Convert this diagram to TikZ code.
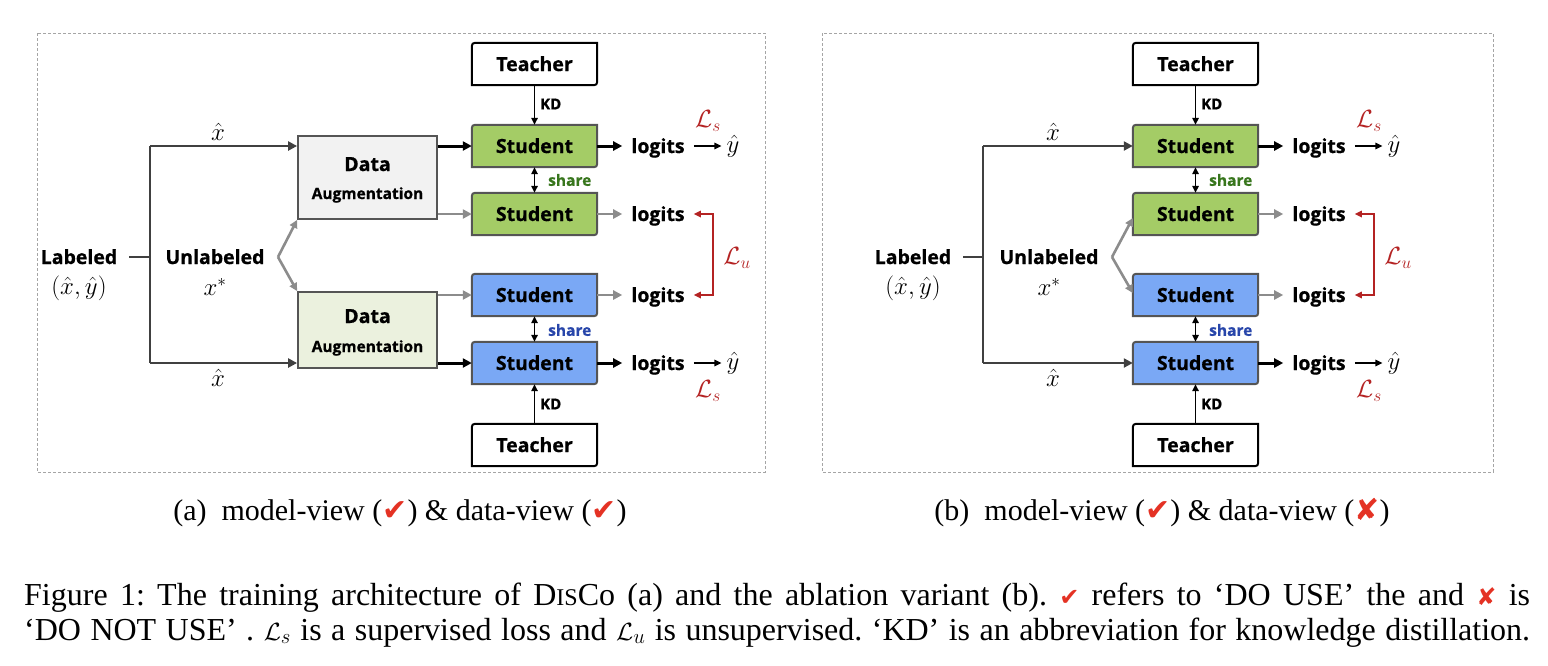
\documentclass[tikz,border=0pt]{standalone}
\usepackage{fontspec}
\setmainfont{Liberation Serif}
\newfontfamily\dfont{Open Sans}[BoldFeatures={FakeBold=0.8}]
\newfontfamily\symfont{DejaVu Sans}
\usetikzlibrary{arrows.meta,backgrounds,calc}

\definecolor{sgreen}{RGB}{164,204,102}
\definecolor{sblue}{RGB}{122,168,245}
\definecolor{bordc}{RGB}{85,85,85}
\definecolor{lined}{RGB}{64,64,64}
\definecolor{lineg}{RGB}{140,140,140}
\definecolor{lred}{RGB}{180,35,35}
\definecolor{shgreen}{RGB}{56,118,29}
\definecolor{shblue}{RGB}{40,70,170}
\definecolor{augA}{RGB}{242,242,242}
\definecolor{augB}{RGB}{235,241,222}
\definecolor{ckred}{RGB}{228,50,36}
\definecolor{framec}{RGB}{165,165,165}

\newcommand\myroundbox[2]{%
  \draw[#2] (#1.south west) -- ([xshift=-7pt]#1.south east)
    .. controls (#1.south east) .. ([yshift=7pt]#1.south east)
    -- (#1.north east) -- ([xshift=7pt]#1.north west)
    .. controls (#1.north west) .. ([yshift=-7pt]#1.north west) -- cycle;}
\newcommand\ck{{\symfont\color{ckred}✔}}
\newcommand\xk{{\symfont\color{ckred}✘}}

\tikzset{
  bx/.style={minimum width=125pt, minimum height=42pt, inner sep=0pt,
    text height=14pt, text depth=0pt, font=\dfont\bfseries\fontsize{19.5}{22}\selectfont},
  lg/.style={inner xsep=9pt, inner ysep=0pt, text height=14pt, text depth=0pt,
    font=\dfont\bfseries\fontsize{19.5}{22}\selectfont},
  lbl/.style={inner sep=0pt, text height=14pt, text depth=0pt, font=\dfont\bfseries\fontsize{19.5}{22}\selectfont},
  mth/.style={inner sep=0pt, font=\fontsize{24}{28}\selectfont},
  redl/.style={inner sep=0pt, text=lred, font=\fontsize{25}{28}\selectfont},
  kd/.style={inner sep=0pt, anchor=west, font=\dfont\bfseries\fontsize{15}{18}\selectfont},
  sh/.style={inner sep=0pt, anchor=west, font=\dfont\bfseries\fontsize{15.5}{18}\selectfont},
  aug/.style={inner sep=0pt, text height=11pt, text depth=3pt, font=\dfont\bfseries\fontsize{15.5}{18}\selectfont},
  thinarr/.style={draw=black, line width=1.5pt, -{Triangle[length=7pt,width=6.5pt]}},
  dblarr/.style={draw=black, line width=1.5pt, {Triangle[length=7pt,width=6.5pt]}-{Triangle[length=7pt,width=6.5pt]}},
  barr/.style={draw=black, line width=3pt, -{Triangle[length=9pt,width=9pt]}},
  garr/.style={draw=lineg, line width=2.6pt, -{Triangle[length=9pt,width=9pt]}},
  darr/.style={draw=lined, line width=2.6pt, -{Triangle[length=9pt,width=9pt]}},
  dline/.style={draw=lined, line width=2.6pt},
  redarr/.style={draw=lred, line width=1.6pt, {Triangle[length=7pt,width=6.5pt]}-{Triangle[length=7pt,width=6.5pt]}},
  frm/.style={draw=framec, line width=0.9pt, dash pattern=on 3pt off 2pt},
}

\newcommand\rightpart{%
  \node[bx] (T1) at (534.5,64) {Teacher};
  \node[bx] (S1) at (534.5,146) {Student};
  \node[bx] (S2) at (534.5,214) {Student};
  \node[bx] (S3) at (534.5,295) {Student};
  \node[bx] (S4) at (534.5,363) {Student};
  \node[bx] (T2) at (534.5,445) {Teacher};
  \node[lg] (L1) at (658,146) {logits};
  \node[lg] (L2) at (658,214) {logits};
  \node[lg] (L3) at (658,295) {logits};
  \node[lg] (L4) at (658,363) {logits};
  \node[mth, inner xsep=5pt] (Y1) at (733,146) {$\hat{y}$};
  \node[mth, inner xsep=5pt] (Y4) at (733,363) {$\hat{y}$};
  \node[redl] (Ls1) at (708,121) {$\mathcal{L}_s$};
  \node[redl] (Ls4) at (708,391) {$\mathcal{L}_s$};
  \node[redl] (Lu) at (737,258) {$\mathcal{L}_u$};
  \coordinate (B2) at (713,214);
  \coordinate (B3) at (713,295);
  \node[kd] (KD1) at (540,104) {KD};
  \node[kd] (KD2) at (540,404) {KD};
  \node[sh, text=shgreen] (SH1) at (548,180) {share};
  \node[sh, text=shblue] (SH2) at (548,330) {share};
  \draw[thinarr] (T1.south) -- (S1.north);
  \draw[thinarr] (T2.north) -- (S4.south);
  \draw[dblarr] (S1.south) -- (S2.north);
  \draw[dblarr] (S3.south) -- (S4.north);
  \draw[barr] (S1.east) -- (L1.west);
  \draw[garr] (S2.east) -- (L2.west);
  \draw[garr] (S3.east) -- (L3.west);
  \draw[barr] (S4.east) -- (L4.west);
  \draw[thinarr] (L1.east) -- (Y1.west);
  \draw[thinarr] (L4.east) -- (Y4.west);
  \draw[redarr] (L2.east) -- (B2) -- (B3) -- (L3.east);
  \begin{scope}[on background layer]
    \myroundbox{T1}{fill=white, draw=black, line width=2pt}
    \myroundbox{T2}{fill=white, draw=black, line width=2pt}
    \myroundbox{S1}{fill=sgreen, draw=bordc, line width=2pt}
    \myroundbox{S2}{fill=sgreen, draw=bordc, line width=2pt}
    \myroundbox{S3}{fill=sblue, draw=bordc, line width=2pt}
    \myroundbox{S4}{fill=sblue, draw=bordc, line width=2pt}
  \end{scope}
}

\begin{document}
\begin{tikzpicture}[x=1pt,y=-1pt]
\useasboundingbox (0,0) rectangle (1548,665);

% ---------- panel (a)
\begin{scope}[name prefix=a-]
  \draw[frm] (37,33) rectangle (765,472);
  \rightpart
  \node[draw=bordc, line width=1.8pt, fill=augA, minimum width=139pt, minimum height=83pt, inner sep=0pt] (A1) at (367.5,177.5) {};
  \node[draw=bordc, line width=1.8pt, fill=augB, minimum width=139pt, minimum height=76pt, inner sep=0pt] (A2) at (367.5,330) {};
  \node[lbl] (D1) at (367.5,164) {Data};
  \node[aug] (AU1) at (367.5,195) {Augmentation};
  \node[lbl] (D2) at (367.5,316) {Data};
  \node[aug] (AU2) at (367.5,348) {Augmentation};
  \node[lbl] (LAB) at (79,257) {Labeled};
  \node[mth] (LABM) at (79,288) {$(\hat{x},\hat{y})$};
  \node[lbl] (UNL) at (215,257) {Unlabeled};
  \node[mth] (UNLM) at (215,287) {$x^{*}$};
  \node[mth] (XH1) at (218,132) {$\hat{x}$};
  \node[mth] (XH2) at (218,378) {$\hat{x}$};
  \coordinate (JS) at (129,257);
  \coordinate (J) at (150,257);
  \coordinate (U) at (278,257);
  \draw[dline] (JS) -- (J);
  \draw[dline] (J |- S1) -- (J |- S4);
  \draw[darr] (J |- S1) -- (A1.west |- S1);
  \draw[darr] (J |- S4) -- (A2.west |- S4);
  \draw[draw=lineg, line width=2.6pt, -{Triangle[length=8pt,width=8pt]}] (U) -- (A1.south west);
  \draw[draw=lineg, line width=2.6pt, -{Triangle[length=8pt,width=8pt]}] (U) -- (A2.north west);
  \draw[barr] (A1.east |- S1) -- (S1.west);
  \draw[garr] (A1.east |- S2) -- (S2.west);
  \draw[garr] (A2.east |- S3) -- (S3.west);
  \draw[barr] (A2.east |- S4) -- (S4.west);
\end{scope}

% ---------- panel (b)
\begin{scope}[name prefix=b-]
  \draw[frm] (822,33) rectangle (1493,472);
  \begin{scope}[xshift=661pt]
    \rightpart
  \end{scope}
  \node[lbl] (LAB) at (913,257) {Labeled};
  \node[mth] (LABM) at (913,288) {$(\hat{x},\hat{y})$};
  \node[lbl] (UNL) at (1049,257) {Unlabeled};
  \node[mth] (UNLM) at (1049,287) {$x^{*}$};
  \node[mth] (XH1) at (1053,132) {$\hat{x}$};
  \node[mth] (XH2) at (1053,378) {$\hat{x}$};
  \coordinate (JS) at (963,257);
  \coordinate (J) at (983,257);
  \coordinate (U) at (1112,257);
  \draw[dline] (JS) -- (J);
  \draw[dline] (J |- S1) -- (J |- S4);
  \draw[darr] (J |- S1) -- (S1.west);
  \draw[darr] (J |- S4) -- (S4.west);
  \draw[draw=lineg, line width=2.6pt, -{Triangle[length=8pt,width=8pt]}] (U) -- ([yshift=-4pt]S2.west);
  \draw[draw=lineg, line width=2.6pt, -{Triangle[length=8pt,width=8pt]}] (U) -- ([yshift=2pt]S3.west);
\end{scope}

% ---------- captions
\node[inner sep=0pt, font=\fontsize{30}{34}\selectfont] (capa) at (400,513) {(a)\enspace model-view (\ck) \& data-view (\ck)};
\node[inner sep=0pt, font=\fontsize{30}{34}\selectfont] (capb) at (1162,513) {(b)\enspace model-view (\ck) \& data-view (\xk)};
\node[inner sep=0pt, anchor=base west, font=\fontsize{32}{36}\selectfont] (cap1) at (24,605)
  {\frenchspacing\makebox[1506pt][s]{Figure 1: The training architecture of D{\fontsize{24}{26}\selectfont IS}Co (a) and the ablation variant (b). {\fontsize{24}{26}\selectfont\ck} refers to ‘DO USE’ the and {\fontsize{24}{26}\selectfont\xk} is}};
\node[inner sep=0pt, anchor=base west, font=\fontsize{32}{36}\selectfont] (cap2) at (24,640)
  {\frenchspacing\makebox[1506pt][s]{‘DO NOT USE’ . $\mathcal{L}_s$ is a supervised loss and $\mathcal{L}_u$ is unsupervised. ‘KD’ is an abbreviation for knowledge distillation.}};
\end{tikzpicture}
\end{document}
